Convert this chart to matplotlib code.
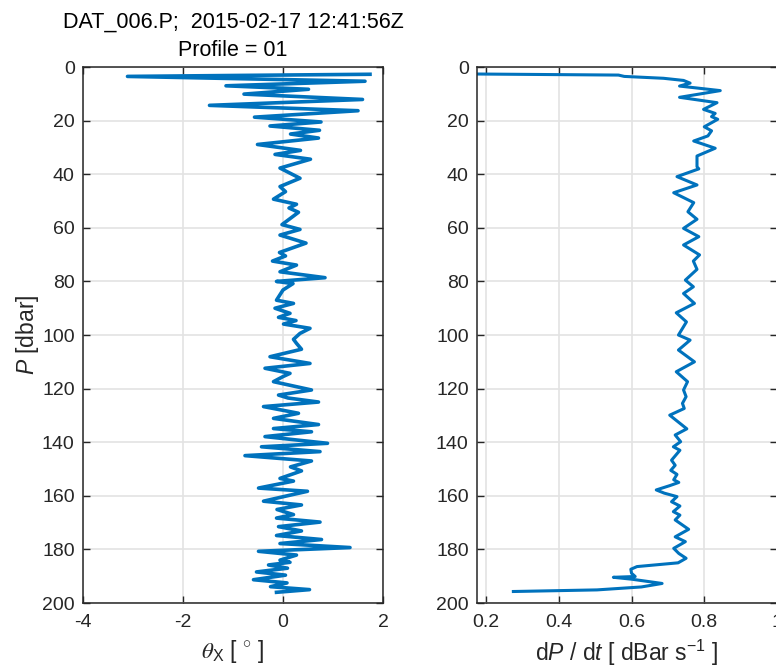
import matplotlib
matplotlib.use('Agg')
import matplotlib.pyplot as plt
from matplotlib.ticker import FormatStrFormatter

# pitch angle profile: pressure [dbar] and theta_X [deg]
theta_p = [2.7, 3.5, 5.3, 7.0, 8.3, 10.1, 12.1, 14.3, 16.3, 18.7, 20.5, 22.0,
           23.6, 25.0, 26.5, 28.9, 31.1, 32.6, 34.4, 37.7, 41.5, 44.6, 46.5,
           49.3, 51.2, 52.6, 54.2, 58.8, 60.6, 62.7, 65.7, 69.2, 70.5, 72.4,
           73.9, 76.4, 78.6, 80.0, 80.8, 83.2, 87.0, 88.2, 90.0, 91.9, 93.4,
           94.6, 95.9, 97.5, 99.4, 101.6, 103.1, 105.3, 108.1, 110.6, 112.4,
           114.3, 115.5, 117.4, 120.5, 122.4, 123.5, 125.0, 126.7, 129.2,
           131.1, 133.4, 134.9, 136.1, 137.9, 140.4, 141.7, 143.5, 145.0,
           147.0, 149.2, 150.7, 153.5, 154.5, 157.1, 158.3, 160.3, 162.0,
           163.4, 165.1, 167.0, 168.3, 169.8, 171.5, 173.1, 174.8, 176.3,
           177.8, 179.3, 180.7, 182.1, 184.0, 184.8, 185.8, 187.0, 188.4,
           189.6, 191.3, 192.5, 193.9, 195.0, 196.0]
theta_x = [1.74, -3.11, 1.64, -1.14, 0.51, -0.78, 1.59, -1.47, 1.50, -0.57,
           0.76, -0.26, 0.73, 0.15, 0.71, -0.51, 0.35, -0.16, 0.55, -0.06,
           0.34, -0.06, 0.05, -0.19, 0.27, 0.12, 0.31, -0.02, 0.34, -0.06,
           0.46, -0.07, 0.05, -0.21, 0.27, -0.06, 0.84, -0.13, 0.20, 0.00,
           -0.13, 0.21, -0.16, 0.14, -0.09, 0.26, 0.01, 0.54, 0.34, 0.21,
           0.27, 0.37, -0.26, 0.54, -0.36, 0.14, 0.00, -0.19, 0.57, -0.09,
           0.10, 0.71, -0.39, 0.31, -0.19, 0.71, -0.19, 0.57, -0.36, 0.89,
           -0.43, 0.74, -0.76, 0.57, 0.15, 0.37, -0.06, 0.21, -0.49, 0.49,
           0.01, -0.39, 0.37, -0.12, 0.21, -0.13, 0.74, -0.09, 0.37, -0.13,
           0.77, -0.06, 1.34, -0.49, 0.27, -0.06, 0.14, -0.29, 0.09, -0.53,
           0.05, -0.59, 0.08, -0.25, 0.53, -0.13]

# fall rate profile: pressure [dbar] and dP/dt [dBar/s]
rate_p = [2.6, 3.0, 3.5, 4.2, 5.0, 6.0, 7.1, 8.8, 11.3, 13.3, 15.8, 17.3,
          18.5, 19.5, 22.3, 23.8, 25.7, 27.6, 30.3, 33.2, 37.2, 38.0, 40.9,
          44.0, 46.9, 50.6, 54.0, 56.8, 60.2, 63.3, 66.4, 70.1, 72.4, 75.5,
          79.5, 82.0, 84.5, 88.2, 91.7, 95.1, 100.0, 101.9, 105.6, 110.0,
          113.7, 117.4, 120.5, 123.0, 125.5, 127.4, 129.9, 135.0, 137.3,
          139.8, 141.7, 143.0, 146.7, 148.6, 150.5, 152.0, 154.0, 155.0,
          156.2, 157.8, 159.0, 160.3, 162.2, 163.8, 165.9, 167.2, 169.0,
          172.5, 175.3, 177.1, 179.6, 181.5, 183.3, 185.0, 186.4, 187.4,
          188.9, 190.1, 190.4, 191.1, 192.7, 194.0, 195.1, 195.7]
rate_v = [0.17, 0.564, 0.58, 0.688, 0.743, 0.761, 0.732, 0.844, 0.732, 0.835,
          0.798, 0.83, 0.82, 0.837, 0.80, 0.82, 0.81, 0.771, 0.83, 0.78, 0.78,
          0.785, 0.725, 0.78, 0.716, 0.771, 0.755, 0.78, 0.743, 0.785, 0.743,
          0.787, 0.77, 0.78, 0.748, 0.77, 0.743, 0.773, 0.723, 0.751, 0.729,
          0.761, 0.729, 0.773, 0.723, 0.754, 0.743, 0.75, 0.74, 0.745, 0.705,
          0.752, 0.72, 0.735, 0.715, 0.733, 0.71, 0.72, 0.708, 0.725, 0.716,
          0.73, 0.705, 0.668, 0.69, 0.725, 0.71, 0.733, 0.715, 0.733, 0.72,
          0.757, 0.72, 0.748, 0.716, 0.73, 0.75, 0.728, 0.615, 0.598, 0.60,
          0.61, 0.55, 0.60, 0.684, 0.627, 0.505, 0.275]

theta_ticks = [-4, -2, 0, 2]
rate_ticks = [0.2, 0.4, 0.6, 0.8, 1.0]
p_ticks = list(range(0, 201, 20))

plt.rcParams['font.family'] = ['Liberation Sans', 'DejaVu Sans']
plt.rcParams['axes.unicode_minus'] = False
plt.rcParams['mathtext.fontset'] = 'custom'
plt.rcParams['mathtext.rm'] = 'Liberation Sans'
plt.rcParams['mathtext.it'] = 'Liberation Sans:italic'
plt.rcParams['mathtext.sf'] = 'STIXGeneral:italic'

dark = '#262626'
blue = '#0072BD'
fs = 14      # tick labels
lfs = 16.5   # axis labels
tfs = 15.5   # title


def style_axes(ax):
    ax.set_ylim(200, 0)
    ax.set_yticks(p_ticks)
    ax.grid(True, color='#e3e3e3', linewidth=1.2)
    ax.set_axisbelow(True)
    ax.tick_params(direction='in', length=5, width=1.0, top=True, right=True,
                   labelsize=fs, colors=dark)
    ax.tick_params(axis='y', pad=6)
    ax.tick_params(axis='x', pad=8)
    for s in ax.spines.values():
        s.set_color(dark)
        s.set_linewidth(1.1)


def main():
    fig = plt.figure(figsize=(7.76, 6.71), dpi=100)

    ax1 = fig.add_axes([83 / 776, 0.1013, 300 / 776, 0.7988])
    ax1.plot(theta_x, theta_p, color=blue, linewidth=2.6,
             solid_joinstyle='round')
    ax1.set_xlim(-4, 2)
    ax1.set_xticks(theta_ticks)
    style_axes(ax1)
    ax1.set_ylabel(r'$\mathit{P}$ [dbar]', fontsize=lfs, color=dark,
                   labelpad=1)
    ax1.set_xlabel(r'$\mathsf{\theta}_{\rm X}$ [ $^{\circ}$ ]', fontsize=lfs,
                   color=dark, labelpad=5)
    ax1.set_title('DAT_006.P;  2015-02-17 12:41:56Z\nProfile = 01',
                  fontsize=tfs, color='black', pad=8, linespacing=1.45)

    ax2 = fig.add_axes([477 / 776, 0.1013, 300 / 776, 0.7988])
    ax2.plot(rate_v, rate_p, color=blue, linewidth=2.2,
             solid_joinstyle='round')
    ax2.set_xlim(0.175, 1.0)
    ax2.set_xticks(rate_ticks)
    ax2.xaxis.set_major_formatter(FormatStrFormatter('%g'))
    style_axes(ax2)
    ax2.set_xlabel(r'd$\mathit{P}$ / d$\mathit{t}$ [ dBar s$^{-1}$ ]',
                   fontsize=lfs, color=dark, labelpad=5)

    fig.savefig('out.png', dpi=100)


if __name__ == '__main__':
    main()
